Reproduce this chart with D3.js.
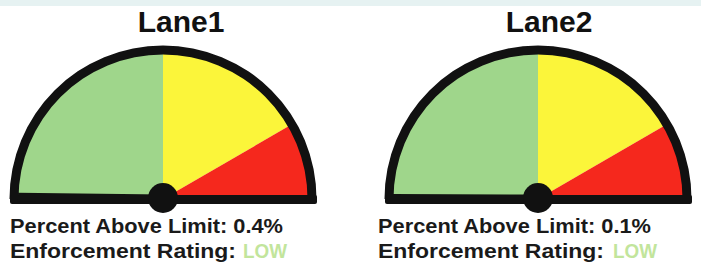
<!DOCTYPE html>
<html>
<head>
    <title>Lane Enforcement Gauges</title>
    <script src="https://d3js.org/d3.v7.min.js"></script>
    <style>
        body { margin: 0; background: #fff; }
        text { font-family: "Liberation Sans", Arial, sans-serif; }
    </style>
</head>
<body>
    <div id="chart"></div>

    <script>
        // Data
        const lanes = ["Lane1", "Lane2"];
        const percentAbove = [0.4, 0.1];
        const ratings = ["LOW", "LOW"];
        const bandStops = [0, 50, 83.3, 100];   // gauge bands, % of dial
        const bandNames = ["low", "medium", "high"];

        // Styles / layout
        const bandColors = { low: "#9fd68b", medium: "#fbf53a", high: "#f5281d" };
        const ratingColor = "#c2e59c";
        const width = 701, height = 265;
        const centersX = [163, 538];
        const textX = [10, 378];
        const lowX = [243, 613];
        const titleX = [181, 549];
        const cy = 199;
        const R = 149;

        const svg = d3.select("#chart")
            .append("svg")
            .attr("width", width)
            .attr("height", height);

        // faint band at the top
        svg.append("rect")
            .attr("x", 0).attr("y", 0)
            .attr("width", width).attr("height", 6)
            .attr("fill", "#e6f2f2");

        const angle = d3.scaleLinear().domain([0, 100]).range([-Math.PI / 2, Math.PI / 2]);
        const arc = d3.arc().innerRadius(0).outerRadius(R);

        const bands = bandNames.map((n, i) => ({ name: n, from: bandStops[i], to: bandStops[i + 1] }));

        lanes.forEach((lane, i) => {
            const g = svg.append("g").attr("transform", `translate(${centersX[i]},${cy})`);

            g.selectAll(".band")
                .data(bands)
                .join("path")
                .attr("class", "band")
                .attr("d", d => arc({ startAngle: angle(d.from), endAngle: angle(d.to) }))
                .attr("fill", d => bandColors[d.name]);

            // outline
            g.append("path")
                .attr("d", d3.arc().innerRadius(R - 4.5).outerRadius(R + 4.5)
                    .startAngle(angle(0)).endAngle(angle(100))())
                .attr("fill", "#111");

            g.append("rect")
                .attr("x", -R - 4).attr("y", -4)
                .attr("width", 2 * R + 9).attr("height", 9)
                .attr("rx", 2)
                .attr("fill", "#111");

            // needle (value is near zero so it lies on the baseline)
            const a = angle(percentAbove[i]);
            g.append("line")
                .attr("x1", 0).attr("y1", 0)
                .attr("x2", (R - 4) * Math.sin(a)).attr("y2", -(R - 4) * Math.cos(a))
                .attr("stroke", "#111")
                .attr("stroke-width", 9);

            g.append("circle")
                .attr("cx", 0).attr("cy", -1)
                .attr("r", 15)
                .attr("fill", "#111");

            svg.append("text")
                .attr("x", titleX[i]).attr("y", 32)
                .attr("text-anchor", "middle")
                .attr("font-size", 30)
                .attr("font-weight", "bold")
                .attr("fill", "#111")
                .text(lane);

            svg.append("text")
                .attr("x", textX[i]).attr("y", 233)
                .attr("font-size", 21)
                .attr("font-weight", "bold")
                .attr("fill", "#1a1a1a")
                .attr("textLength", 273)
                .attr("lengthAdjust", "spacingAndGlyphs")
                .text(`Percent Above Limit: ${percentAbove[i]}%`);

            svg.append("text")
                .attr("x", textX[i]).attr("y", 258)
                .attr("font-size", 21)
                .attr("font-weight", "bold")
                .attr("fill", "#1a1a1a")
                .attr("textLength", 226)
                .attr("lengthAdjust", "spacingAndGlyphs")
                .text("Enforcement Rating:");

            svg.append("text")
                .attr("x", lowX[i]).attr("y", 258)
                .attr("font-size", 20)
                .attr("font-weight", "bold")
                .attr("fill", ratingColor)
                .attr("textLength", 44)
                .attr("lengthAdjust", "spacingAndGlyphs")
                .text(ratings[i]);
        });
    </script>
</body>
</html>
